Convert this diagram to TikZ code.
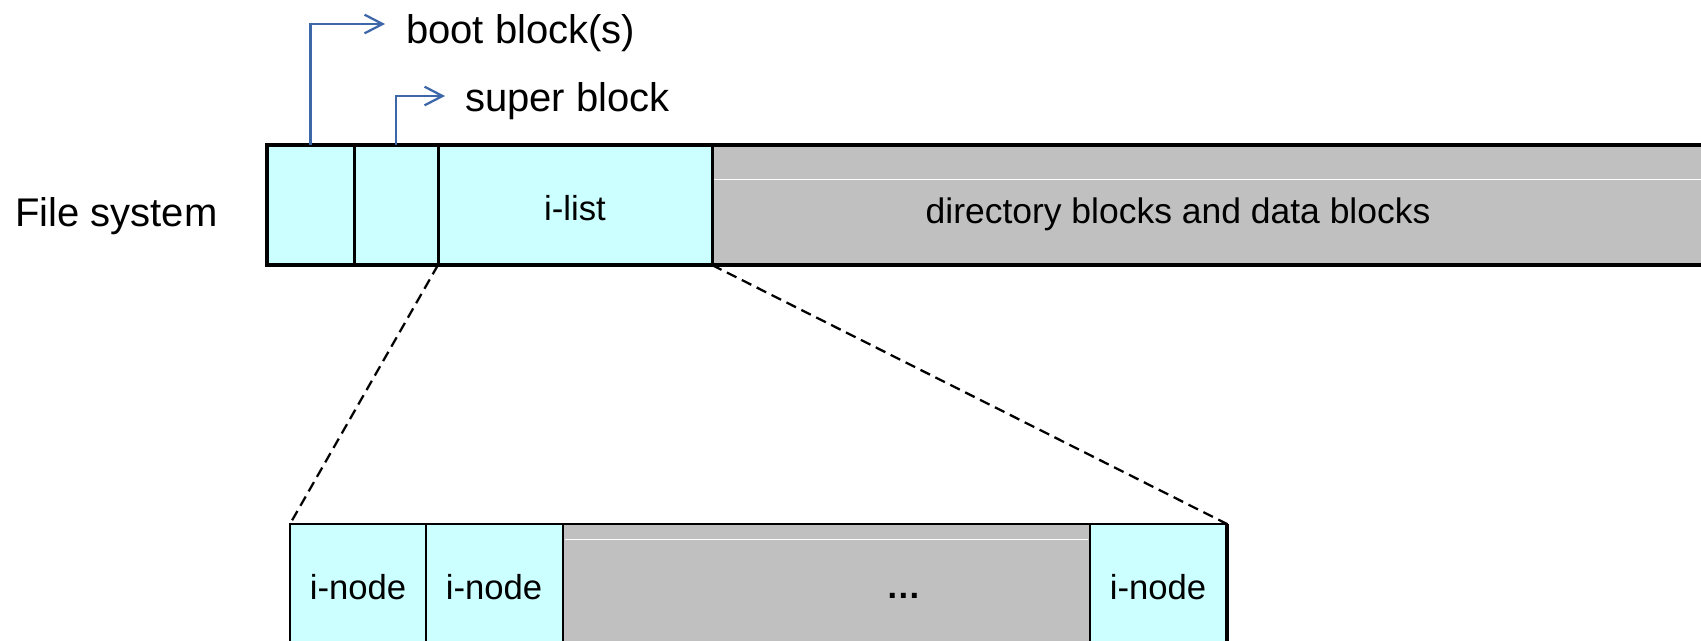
\documentclass[tikz,border=0pt]{standalone}
\usepackage{fontspec}
\setmainfont{Liberation Sans}
\usetikzlibrary{arrows.meta}
\definecolor{cellcyan}{HTML}{CCFFFF}
\definecolor{cellgray}{HTML}{C0C0C0}
\definecolor{pointerblue}{RGB}{61,103,168}
\begin{document}
\begin{tikzpicture}[x=0.75pt,y=-0.75pt,
  cell/.style={draw=black, line width=2.25pt, anchor=north west, inner sep=0pt, outer sep=0pt},
  cyancell/.style={cell, fill=cellcyan},
  graycell/.style={cell, fill=cellgray},
  bigtext/.style={font=\fontsize{30pt}{36pt}\selectfont, inner sep=0pt},
  celltext/.style={font=\fontsize{26pt}{31pt}\selectfont, inner sep=0pt},
  datatext/.style={font=\fontsize{26.6pt}{32pt}\selectfont, inner sep=0pt},
  pointer/.style={draw=pointerblue, line width=1.7pt,
    -{Straight Barb[length=13.5pt, width=14pt, line width=1.7pt]}},
  zoomline/.style={draw=black, line width=1.7pt, dash pattern=on 8pt off 4.5pt},
  shine/.style={draw=white, line width=0.75pt}
]
\useasboundingbox (0,0) rectangle (1701,640);
\clip (0,0) rectangle (1701,640);

% file system layout
\node[cyancell, minimum width=65.25pt, minimum height=90pt] (boot) at (267,145) {};
\node[cyancell, minimum width=63pt, minimum height=90pt] (super) at (boot.north east) {};
\node[cyancell, minimum width=205.5pt, minimum height=90pt] (ilist) at (super.north east) {};
\node[graycell, minimum width=756pt, minimum height=90pt] (data) at (ilist.north east) {};
\draw[shine] (714,179) -- (1720,179);
\draw[line width=3pt] (boot.north west) rectangle (data.south east);

% i-list expanded into i-nodes
\node[cyancell, line width=1.9pt, minimum width=102pt, minimum height=102pt] (n1) at (290,524) {};
\node[cyancell, line width=1.9pt, minimum width=102.75pt, minimum height=102pt] (n2) at (n1.north east) {};
\node[graycell, line width=1.9pt, minimum width=395.25pt, minimum height=102pt] (gap) at (n2.north east) {};
\node[cyancell, line width=1.9pt, minimum width=102.75pt, minimum height=102pt] (n3) at (gap.north east) {};
\draw[shine] (565,539) -- (1088,539);
\draw[line width=2.6pt] (n3.north east) -- (n3.south east);

\draw[zoomline] (ilist.south west) -- (n1.north west);
\draw[zoomline] (ilist.south east) -- (n3.north east);

% labels
\node[bigtext, anchor=base west] (fslbl) at (15,226) {File system};
\node[bigtext, anchor=base west] (bootlbl) at (406,43) {boot block(s)};
\node[bigtext, anchor=base west] (superlbl) at (465,111) {super block};
\node[celltext, anchor=base] (ilistlbl) at (575,220) {i-list};
\node[datatext, anchor=base] (datalbl) at (1178,223) {directory blocks and data blocks};
\node[celltext, anchor=base] (n1lbl) at (358,599) {i-node};
\node[celltext, anchor=base] (n2lbl) at (494,599) {i-node};
\node[celltext, anchor=base] (gaplbl) at (904,598) {\bfseries\textellipsis};
\node[celltext, anchor=base] (n3lbl) at (1158,599) {i-node};

% pointers to the first two blocks
\coordinate (bootTip) at (385,24);
\coordinate (superTip) at (445,96);
\draw[pointer] (boot.north) |- (bootTip);
\draw[pointer] (super.north) |- (superTip);
\end{tikzpicture}
\end{document}
